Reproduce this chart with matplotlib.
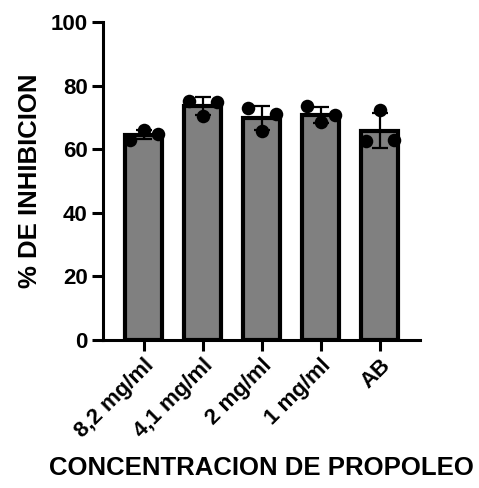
import matplotlib
matplotlib.use("Agg")
import matplotlib.pyplot as plt
import numpy as np

categories = ["8,2 mg/ml", "4,1 mg/ml", "2 mg/ml", "1 mg/ml", "AB"]
replicates = [
    [63.0, 66.0, 64.7],
    [75.2, 70.3, 75.0],
    [72.8, 65.6, 71.0],
    [73.5, 68.5, 70.6],
    [62.5, 72.3, 62.8],
]
y_ticks = [0, 20, 40, 60, 80, 100]
jitter = [-0.24, 0.0, 0.24]

plt.rcParams['font.family'] = ['Liberation Sans', 'DejaVu Sans']
plt.rcParams['font.weight'] = 'bold'

fig = plt.figure(figsize=(4.79, 4.88), dpi=100)
ax = fig.add_axes([103/479, 1 - 340/488, 317/479, 318/488])

x = np.arange(len(categories))
means = [np.mean(r) for r in replicates]
sds = [np.std(r, ddof=1) for r in replicates]

ax.bar(x, means, width=0.63, color='#808080', edgecolor='black', linewidth=3, zorder=2)
ax.errorbar(x, means, yerr=sds, fmt='none', ecolor='black', elinewidth=1.6,
            capsize=6, capthick=1.6, zorder=3)
for i, r in enumerate(replicates):
    ax.scatter([i + j for j in jitter], r, s=95, color='black', zorder=4, linewidths=0)

ax.set_xlim(-0.69, 4.68)
ax.set_ylim(0, 100)
ax.set_yticks(y_ticks)
ax.set_xticks(x)
ax.set_xticklabels(categories, rotation=45, ha='right', rotation_mode='anchor',
                   fontsize=16, fontweight='bold')
ax.tick_params(axis='y', labelsize=16, width=2.2, length=8, pad=3)
ax.tick_params(axis='x', width=2.2, length=8, pad=3)
for lab in ax.get_yticklabels():
    lab.set_fontweight('bold')
for s in ['top', 'right']:
    ax.spines[s].set_visible(False)
for s in ['left', 'bottom']:
    ax.spines[s].set_linewidth(2.2)

ax.set_ylabel('% DE INHIBICION', fontsize=18.5, fontweight='bold', labelpad=6)
ax.set_xlabel('CONCENTRACION DE PROPOLEO', fontsize=18.5, fontweight='bold', labelpad=10)

fig.savefig('out.png', dpi=100)
